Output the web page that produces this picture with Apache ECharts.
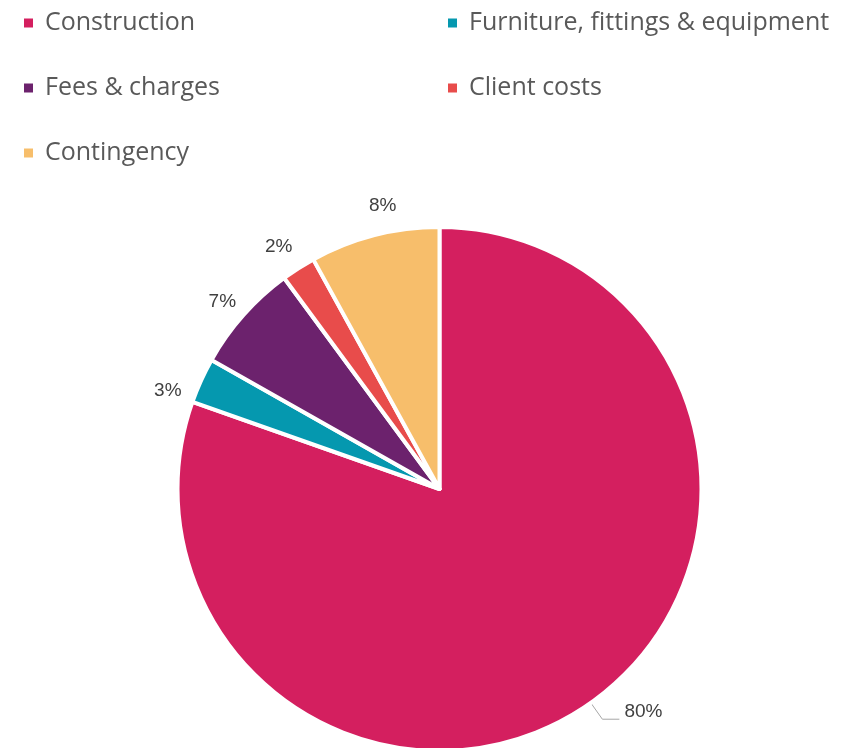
<!DOCTYPE html>
<html>
<head>
<meta charset="utf-8">
<script src="https://cdn.jsdelivr.net/npm/echarts@6/dist/echarts.min.js"></script>
<style>html,body{margin:0;padding:0;background:#fff;}#chart{width:848px;height:748px;}</style>
</head>
<body>
<div id="chart"></div>
<script>
var categories = ['Construction', 'Furniture, fittings & equipment', 'Fees & charges', 'Client costs', 'Contingency'];
var values = [80.4, 2.8, 6.7, 2.1, 8.0];
var colors = ['#D41F5F', '#0598AF', '#6C226D', '#E84C4B', '#F7BE6B'];
var leftLegend = ['Construction', 'Fees & charges', 'Contingency'];
var rightLegend = ['Furniture, fittings & equipment', 'Client costs'];

// small nudges of the outside labels (style only)
var labelNudge = [null, [-5, 23], [2, 7], [-3, 5], [16, 1]];

var chart = echarts.init(document.getElementById('chart'));
var legendBase = {
  orient: 'vertical',
  top: 10.5,
  itemWidth: 11,
  itemHeight: 11,
  itemGap: 40,
  icon: 'rect',
  textStyle: { fontFamily: 'Open Sans', fontSize: 25, color: '#595959', lineHeight: 24, padding: [0, 0, 0, 6] },
  padding: 0,
  selectedMode: false
};
var labelFont = { fontFamily: 'Liberation Sans', fontSize: 19, color: '#404040' };

var mainData = categories.map(function (c, i) {
  var item = { name: c, value: values[i], itemStyle: { color: colors[i] } };
  if (i === 0) {
    item.label = {
      show: true,
      formatter: '{t|{d}%}\n{s|}',
      rich: {
        t: { fontFamily: 'Liberation Sans', fontSize: 19, color: '#404040', lineHeight: 22 },
        s: { fontSize: 1, lineHeight: 14 }
      }
    };
    item.labelLine = { show: true, length: 20, length2: 17, lineStyle: { color: '#A6A6A6', width: 1 } };
  }
  return item;
});
var ringData = categories.map(function (c, i) {
  var item = { name: c, value: values[i] };
  if (i === 0) item.label = { show: false };
  else item.label = { offset: labelNudge[i] };
  return item;
});

chart.setOption({
  animation: false,
  legend: [
    Object.assign({}, legendBase, { left: 22, data: leftLegend }),
    Object.assign({}, legendBase, { left: 446, data: rightLegend })
  ],
  series: [{
    type: 'pie',
    center: [439.5, 489],
    radius: 262,
    startAngle: 90,
    clockwise: true,
    percentPrecision: 0,
    avoidLabelOverlap: false,
    itemStyle: { borderColor: '#ffffff', borderWidth: 4 },
    label: Object.assign({ show: false, position: 'outside', formatter: '{d}%' }, labelFont),
    labelLine: { show: false },
    emphasis: { disabled: true },
    data: mainData
  }, {
    type: 'pie',
    silent: true,
    center: [439.5, 489],
    radius: [280, 300],
    startAngle: 90,
    clockwise: true,
    percentPrecision: 0,
    avoidLabelOverlap: false,
    itemStyle: { color: 'rgba(0,0,0,0)', borderWidth: 0 },
    label: Object.assign({ show: true, position: 'inside', formatter: '{d}%' }, labelFont),
    labelLine: { show: false },
    emphasis: { disabled: true },
    tooltip: { show: false },
    data: ringData
  }]
});
</script>
</body>
</html>
